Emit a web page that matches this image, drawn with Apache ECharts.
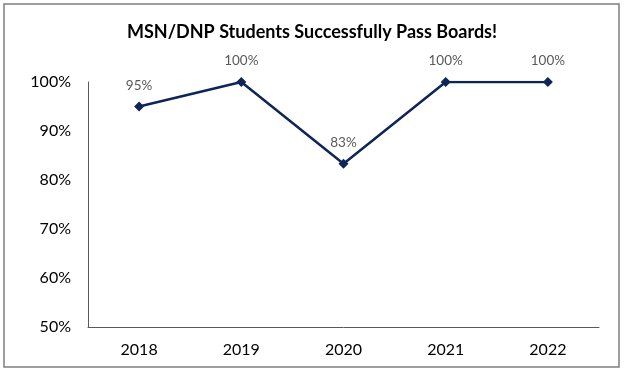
<!DOCTYPE html>
<html><head><meta charset="utf-8">
<script src="https://cdn.jsdelivr.net/npm/echarts@6/dist/echarts.min.js"></script>
<style>html,body{margin:0;padding:0;background:#fff}#c{width:624px;height:370px}</style>
</head><body><div id="c"></div>
<script>
var titleText = 'MSN/DNP Students Successfully Pass Boards!';
var years = ['2018', '2019', '2020', '2021', '2022'];
var passRates = [95, 100, 83.3, 100, 100];
var yTicks = [50, 60, 70, 80, 90, 100];

var chart = echarts.init(document.getElementById('c'), null, {renderer: 'canvas'});
chart.setOption({
  animation: false,
  backgroundColor: '#fff',
  title: {
    text: titleText, left: 'center', top: 18,
    textStyle: {fontFamily: 'Lato', fontWeight: 'bold', fontSize: 18, color: '#000'}
  },
  graphic: [{
    type: 'rect', shape: {x: 4, y: 4, width: 615, height: 363},
    style: {fill: 'none', stroke: '#7f7f7f', lineWidth: 1.5}, silent: true
  }],
  grid: {left: 88, right: 25, top: 82, bottom: 43},
  xAxis: {
    type: 'category', data: years, boundaryGap: true,
    axisLine: {lineStyle: {color: '#595959', width: 1}},
    axisTick: {show: false},
    axisLabel: {fontFamily: 'Lato', fontSize: 16, color: '#000', margin: 15}
  },
  yAxis: {
    type: 'value', min: yTicks[0], max: yTicks[yTicks.length - 1], interval: 10,
    axisLine: {show: true, lineStyle: {color: '#595959', width: 1}},
    axisTick: {show: false},
    splitLine: {show: false},
    axisLabel: {fontFamily: 'Lato', fontSize: 16, color: '#000', margin: 17,
      formatter: function (v) { return v + '%'; }}
  },
  series: [{
    type: 'line', data: passRates,
    symbol: 'diamond', symbolSize: 10,
    lineStyle: {color: '#0f2557', width: 2.5},
    itemStyle: {color: '#0f2557'},
    label: {show: true, position: 'top', distance: 9, fontFamily: 'Lato', fontSize: 13.5, color: '#595959',
      formatter: function (p) { return Math.round(p.value) + '%'; }}
  }]
});
</script></body></html>
